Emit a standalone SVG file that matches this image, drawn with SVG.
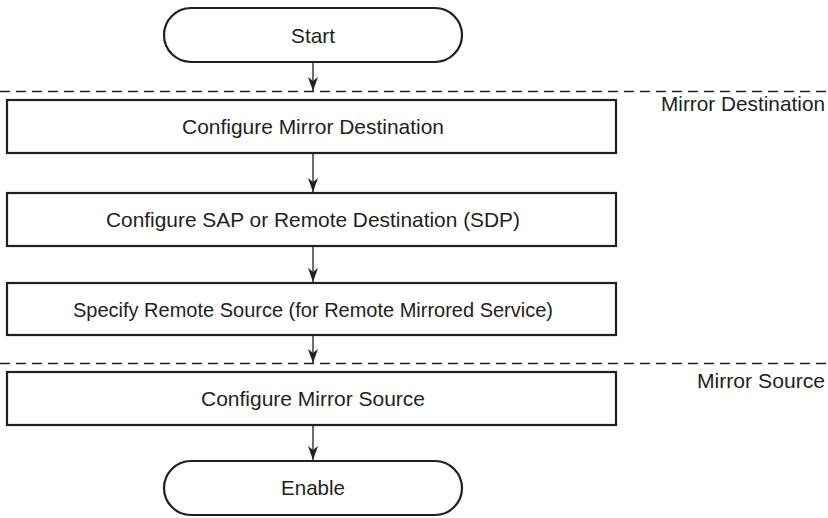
<svg xmlns="http://www.w3.org/2000/svg" width="828" height="518" viewBox="0 0 828 518">
<defs>
<marker id="ah" markerWidth="14" markerHeight="10" refX="14" refY="5" orient="auto" markerUnits="userSpaceOnUse" viewBox="0 0 14 10">
<path d="M0,0 L14,5 L0,10 L4,5 Z" fill="#231f20"/>
</marker>
</defs>
<style>
.box{fill:#fff;stroke:#231f20;stroke-width:2.2}
.t{font-family:"Liberation Sans",Arial,sans-serif;font-size:21px;fill:#231f20;text-anchor:middle}
.lab{font-family:"Liberation Sans",Arial,sans-serif;font-size:21px;fill:#231f20;text-anchor:end}
.dash{stroke:#231f20;stroke-width:1.5;stroke-dasharray:10,6;fill:none}
.conn{stroke:#231f20;stroke-width:1.3;fill:none}
</style>
<rect width="828" height="518" fill="#fff"/>
<g id="separators">
<line class="dash" x1="0" y1="91.5" x2="828" y2="91.5"/>
<line class="dash" x1="0" y1="363.5" x2="828" y2="363.5"/>
<text class="lab" x="825" y="111" textLength="164" lengthAdjust="spacingAndGlyphs">Mirror Destination</text>
<text class="lab" x="825" y="388" textLength="128" lengthAdjust="spacingAndGlyphs">Mirror Source</text>
</g>
<g id="connectors">
<line class="conn" x1="313" y1="62" x2="313" y2="91" marker-end="url(#ah)"/>
<line class="conn" x1="313" y1="153" x2="313" y2="192" marker-end="url(#ah)"/>
<line class="conn" x1="313" y1="246" x2="313" y2="282" marker-end="url(#ah)"/>
<line class="conn" x1="313" y1="335" x2="313" y2="363" marker-end="url(#ah)"/>
<line class="conn" x1="313" y1="425" x2="313" y2="460" marker-end="url(#ah)"/>
</g>
<g id="start">
<rect class="box" x="164" y="8" width="298" height="54" rx="27"/>
<text class="t" x="313" y="43" textLength="44" lengthAdjust="spacingAndGlyphs">Start</text>
</g>
<g id="cfg-mirror-dest">
<rect class="box" x="7" y="100" width="609" height="53"/>
<text class="t" x="313" y="134" textLength="262" lengthAdjust="spacingAndGlyphs">Configure Mirror Destination</text>
</g>
<g id="cfg-sap">
<rect class="box" x="7" y="193" width="609" height="53"/>
<text class="t" x="313" y="227" textLength="414" lengthAdjust="spacingAndGlyphs">Configure SAP or Remote Destination (SDP)</text>
</g>
<g id="remote-source">
<rect class="box" x="7" y="283" width="609" height="52"/>
<text class="t" x="313" y="317" textLength="480" lengthAdjust="spacingAndGlyphs">Specify Remote Source (for Remote Mirrored Service)</text>
</g>
<g id="cfg-mirror-source">
<rect class="box" x="7" y="372" width="609" height="53"/>
<text class="t" x="313" y="406" textLength="224" lengthAdjust="spacingAndGlyphs">Configure Mirror Source</text>
</g>
<g id="enable">
<rect class="box" x="164" y="461" width="298" height="54" rx="27"/>
<text class="t" x="313" y="495" textLength="64" lengthAdjust="spacingAndGlyphs">Enable</text>
</g>
</svg>
